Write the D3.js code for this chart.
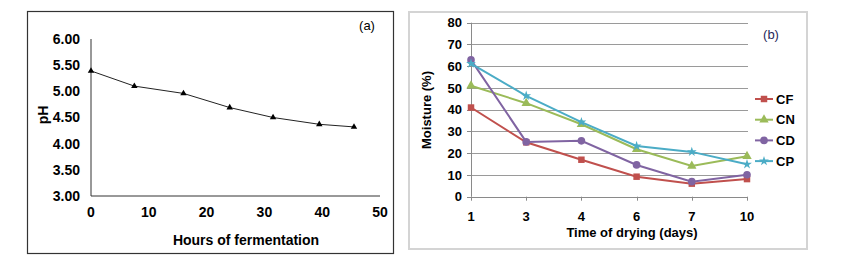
<!DOCTYPE html>
<html><head><meta charset="utf-8">
<script src="https://cdn.jsdelivr.net/npm/d3@7"></script>
<style>body{margin:0;background:#fff}svg{display:block}text{font-family:"Liberation Sans",Arial,sans-serif}</style>
</head><body>
<script>
// Panel (a)
const hours = [0, 7.5, 16, 24, 31.5, 39.5, 45.5];
const pH = [5.39, 5.10, 4.96, 4.69, 4.50, 4.37, 4.32];
const phTicks = [3, 3.5, 4, 4.5, 5, 5.5, 6];
const hourTicks = [0, 10, 20, 30, 40, 50];
// Panel (b)
const days = ["1", "3", "4", "6", "7", "10"];
const seriesNames = ["CF", "CN", "CD", "CP"];
const CF = [41, 25, 17, 9.2, 6, 8.1];
const CN = [51, 43, 33.3, 21.8, 14.1, 18.6];
const CD = [62.9, 25.2, 25.7, 14.6, 6.9, 10.1];
const CP = [61.2, 46.4, 34.3, 23.3, 20.6, 14.9];
const moistTicks = [0, 10, 20, 30, 40, 50, 60, 70, 80];

const svg = d3.select("body").append("svg").attr("width", 842).attr("height", 263);

// ---------- Panel (a)
svg.append("rect").attr("x", 27.5).attr("y", 11.5).attr("width", 366).attr("height", 242)
  .attr("fill", "none").attr("stroke", "#333").attr("stroke-width", 1.2);
const xa = d3.scaleLinear().domain([0, 50]).range([91, 380]);
const ya = d3.scaleLinear().domain([3, 6]).range([196, 39]);
const ga = svg.append("g");
ga.append("line").attr("x1", xa(0)).attr("x2", xa(50)).attr("y1", ya(3)).attr("y2", ya(3)).attr("stroke", "#333");
ga.append("line").attr("x1", xa(0)).attr("x2", xa(0)).attr("y1", ya(3)).attr("y2", ya(6)).attr("stroke", "#333");
ga.selectAll(".yt").data(phTicks).join("text").attr("x", 80).attr("y", d => ya(d)).attr("dy", "0.35em")
  .attr("text-anchor", "end").attr("font-size", 14).attr("font-weight", "bold").text(d => d.toFixed(2));
ga.selectAll(".xt").data(hourTicks).join("text").attr("x", d => xa(d)).attr("y", 217)
  .attr("text-anchor", "middle").attr("font-size", 14).attr("font-weight", "bold").text(d => d);
ga.append("text").attr("x", 246).attr("y", 245).attr("text-anchor", "middle").attr("font-size", 14)
  .attr("font-weight", "bold").text("Hours of fermentation");
ga.append("text").attr("transform", "translate(48,115) rotate(-90)").attr("text-anchor", "middle")
  .attr("font-size", 14).attr("font-weight", "bold").text("pH");
ga.append("text").attr("x", 367).attr("y", 30).attr("text-anchor", "middle").attr("font-size", 13).text("(a)");
const ptsA = hours.map((h, i) => [h, pH[i]]);
ga.append("path").datum(ptsA).attr("fill", "none").attr("stroke", "#222").attr("stroke-width", 1)
  .attr("d", d3.line().x(d => xa(d[0])).y(d => ya(d[1])));
ga.selectAll(".m").data(ptsA).join("path").attr("fill", "#000")
  .attr("transform", d => `translate(${xa(d[0])},${ya(d[1])})`)
  .attr("d", d3.symbol(d3.symbolTriangle, 18));

// ---------- Panel (b)
svg.append("rect").attr("x", 409).attr("y", 12).attr("width", 398).attr("height", 237)
  .attr("fill", "none").attr("stroke", "#d4d4d4").attr("stroke-width", 2);
const xb = d3.scalePoint().domain(days).range([471, 747]);
const yb = d3.scaleLinear().domain([0, 80]).range([196.7, 22.7]);
const gb = svg.append("g");
gb.selectAll(".grid").data(moistTicks.slice(1)).join("line").attr("x1", 471).attr("x2", 748)
  .attr("y1", d => Math.round(yb(d)) + 0.5).attr("y2", d => Math.round(yb(d)) + 0.5).attr("stroke", "#9a9a9a").attr("stroke-width", 1);
gb.append("line").attr("x1", 467).attr("x2", 748).attr("y1", Math.round(yb(0)) + 0.5).attr("y2", Math.round(yb(0)) + 0.5).attr("stroke", "#8a8a8a");
gb.append("line").attr("x1", 471.5).attr("x2", 471.5).attr("y1", yb(0)).attr("y2", yb(80)).attr("stroke", "#8a8a8a");
gb.selectAll(".yt").data(moistTicks).join("line").attr("x1", 467).attr("x2", 471)
  .attr("y1", d => Math.round(yb(d)) + 0.5).attr("y2", d => Math.round(yb(d)) + 0.5).attr("stroke", "#8a8a8a");
gb.selectAll(".xtk").data(days).join("line").attr("x1", d => Math.round(xb(d)) + 0.5).attr("x2", d => Math.round(xb(d)) + 0.5)
  .attr("y1", yb(0)).attr("y2", yb(0) + 4).attr("stroke", "#8a8a8a");
gb.selectAll(".ytl").data(moistTicks).join("text").attr("x", 462).attr("y", d => yb(d)).attr("dy", "0.35em")
  .attr("text-anchor", "end").attr("font-size", 13).attr("font-weight", "bold").text(d => d);
gb.selectAll(".xtl").data(days).join("text").attr("x", d => xb(d)).attr("y", 221)
  .attr("text-anchor", "middle").attr("font-size", 13).attr("font-weight", "bold").text(d => d);
gb.append("text").attr("x", 632).attr("y", 237).attr("text-anchor", "middle").attr("font-size", 13)
  .attr("font-weight", "bold").text("Time of drying (days)");
gb.append("text").attr("transform", "translate(431,110) rotate(-90)").attr("text-anchor", "middle")
  .attr("font-size", 13).attr("font-weight", "bold").text("Moisture (%)");
gb.append("text").attr("x", 771).attr("y", 39).attr("text-anchor", "middle").attr("font-size", 13).attr("fill", "#1f2a5a").text("(b)");

const series = [
  {name: "CF", vals: CF, color: "#C0504D", sym: d3.symbolSquare, size: 42},
  {name: "CN", vals: CN, color: "#9BBB59", sym: d3.symbolTriangle, size: 38},
  {name: "CD", vals: CD, color: "#8064A2", sym: d3.symbolCircle, size: 46},
  {name: "CP", vals: CP, color: "#4BACC6", sym: d3.symbolStar, size: 30}
];
const lineB = d3.line().x(d => xb(d[0])).y(d => yb(d[1]));
series.forEach((s, si) => {
  const pts = days.map((d, i) => [d, s.vals[i]]);
  gb.append("path").datum(pts).attr("fill", "none").attr("stroke", s.color).attr("stroke-width", 2).attr("d", lineB);
  gb.selectAll(".p" + si).data(pts).join("path").attr("fill", s.color)
    .attr("transform", d => `translate(${xb(d[0])},${yb(d[1])})`).attr("d", d3.symbol(s.sym, s.size));
  const ly = 99 + si * 20.7;
  gb.append("line").attr("x1", 755).attr("x2", 773).attr("y1", ly).attr("y2", ly).attr("stroke", s.color).attr("stroke-width", 2);
  gb.append("path").attr("fill", s.color).attr("transform", `translate(764,${ly})`).attr("d", d3.symbol(s.sym, s.size));
  gb.append("text").attr("x", 776).attr("y", ly).attr("dy", "0.35em").attr("font-size", 13).attr("font-weight", "bold").text(s.name);
});
</script>
</body></html>
